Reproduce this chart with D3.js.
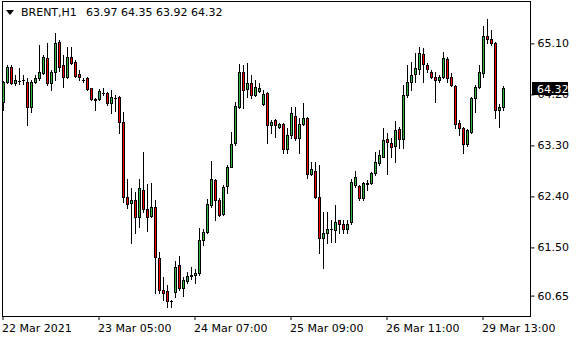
<!DOCTYPE html>
<html>
<head>
<meta charset="utf-8">
<title>BRENT H1</title>
<script src="https://cdn.jsdelivr.net/npm/d3@7"></script>
<style>
  body { margin: 0; background: #fff; }
  text { font-family: "DejaVu Sans", sans-serif; font-size: 11px; fill: #000; }
</style>
</head>
<body>
<div id="chart"></div>
<script>
// hourly BRENT bars
const opens = [64.06,64.42,64.68,64.40,64.44,64.45,64.42,63.98,64.42,64.49,64.58,64.84,64.40,64.59,65.12,64.72,64.51,64.86,64.77,64.56,
  64.46,64.49,64.31,64.12,64.11,64.22,64.22,64.05,64.14,64.15,63.71,62.39,62.28,62.33,62.04,62.51,62.18,62.05,62.21,61.31,
  60.75,60.73,60.55,60.71,61.19,60.78,60.91,61.00,61.01,61.05,61.63,61.77,62.25,62.69,62.34,62.09,62.58,62.92,63.34,63.98,
  64.59,64.29,64.40,64.19,64.26,64.03,64.22,63.66,63.75,63.62,63.68,63.24,63.48,63.82,63.43,63.68,63.78,62.79,62.85,62.39,
  61.66,61.75,61.82,61.81,61.98,61.91,61.82,61.95,62.60,62.58,62.37,62.62,62.64,62.81,62.99,63.09,63.41,63.34,63.29,63.59,
  63.41,64.19,64.42,64.56,64.65,64.91,64.72,64.59,64.51,64.45,64.51,64.82,64.51,64.35,63.69,63.61,63.32,63.54,64.13,64.33,
  64.58,65.23,65.18,65.11,63.92,63.97];
const highs = [64.43,64.72,64.72,64.54,64.66,64.54,64.49,64.45,64.54,65.07,64.89,65.10,64.63,65.28,65.16,64.89,65.04,65.03,64.80,64.63,
  64.49,64.51,64.32,64.13,64.29,64.31,64.24,64.28,64.19,64.17,63.89,62.71,62.55,62.47,62.71,63.18,62.62,62.63,62.34,61.42,
  60.98,60.84,60.57,61.26,61.35,60.98,61.06,61.15,61.12,61.84,61.82,62.35,63.02,62.70,62.37,62.60,62.95,63.53,64.06,64.73,
  64.72,64.75,64.54,64.45,64.40,64.28,64.24,63.75,63.76,63.69,63.69,63.61,63.98,63.98,63.78,64.05,63.80,63.00,63.00,62.95,
  62.12,62.12,61.98,62.25,61.99,61.98,61.98,62.70,62.85,62.61,62.65,62.69,62.83,63.18,63.22,63.60,63.52,63.43,63.73,63.62,
  64.36,64.72,64.77,64.93,65.03,65.02,64.75,64.63,64.59,64.54,64.95,64.86,64.58,64.36,63.75,63.62,63.59,64.15,64.36,64.72,
  65.41,65.53,65.34,65.12,64.03,64.35];
const lows = [63.92,64.40,64.38,64.36,64.38,64.38,63.66,63.89,64.40,64.45,64.56,64.36,64.28,64.45,64.61,64.33,64.49,64.74,64.51,64.45,
  64.42,64.28,64.10,63.92,64.10,64.19,64.01,63.87,63.90,63.52,62.30,62.19,61.58,61.75,61.86,62.12,61.79,62.04,60.69,60.69,
  60.57,60.45,60.45,60.62,60.75,60.64,60.87,60.94,60.87,61.01,61.54,61.75,62.21,61.98,62.05,62.07,62.46,62.92,63.31,63.96,
  63.96,64.15,64.14,64.17,64.24,64.01,63.34,63.52,63.45,63.60,63.16,63.16,63.43,63.39,63.16,63.66,62.72,62.78,62.37,61.40,
  61.14,61.58,61.59,61.59,61.75,61.75,61.75,61.91,62.56,62.34,62.33,62.51,62.62,62.78,62.95,63.09,62.79,63.09,63.01,63.25,
  63.25,64.15,64.28,64.42,64.56,64.42,64.59,64.49,64.06,64.42,64.49,64.42,64.35,63.61,63.48,63.16,63.29,63.52,63.89,64.31,
  64.50,65.11,65.07,63.78,63.62,63.92];
const closes = [64.42,64.68,64.40,64.45,64.44,64.45,63.98,64.42,64.49,64.59,64.86,64.40,64.59,65.10,64.68,64.51,64.86,64.75,64.52,64.51,
  64.45,64.29,64.12,64.10,64.26,64.23,64.05,64.15,64.13,63.71,62.39,62.26,62.34,62.04,62.55,62.18,62.04,62.21,61.33,60.75,
  60.69,60.55,60.56,61.15,60.78,60.92,60.99,61.01,61.05,61.63,61.77,62.26,62.71,62.34,62.07,62.56,62.92,63.32,63.99,64.59,
  64.28,64.40,64.19,64.33,64.31,64.21,63.66,63.71,63.66,63.68,63.24,63.48,63.87,63.43,63.68,63.78,62.79,62.88,62.39,61.66,
  61.75,61.82,61.83,61.95,61.91,61.82,61.91,62.66,62.74,62.37,62.63,62.64,62.81,63.00,63.13,63.39,63.36,63.27,63.57,63.41,
  64.19,64.42,64.54,64.66,64.93,64.73,64.65,64.51,64.45,64.51,64.84,64.49,64.36,63.68,63.61,63.32,63.57,64.13,64.33,64.59,
  65.23,65.18,65.11,63.92,63.98,64.32];

const priceTicks = [65.10, 64.20, 63.30, 62.40, 61.50, 60.65];
const timeTickBars = [0, 24, 48, 72, 96, 120];
const timeTickLabels = ["22 Mar 2021", "23 Mar 05:00", "24 Mar 07:00", "25 Mar 09:00", "26 Mar 11:00", "29 Mar 13:00"];
const symbol = "BRENT,H1";

const width = 580, height = 340;
const plot = { left: 2, top: 2, right: 530, bottom: 316 };
const n = opens.length;
const last = n - 1;

const bars = d3.range(n).map(i => ({ i, o: opens[i], h: highs[i], l: lows[i], c: closes[i] }));

const x = d3.scaleBand()
    .domain(d3.range(n))
    .range([1, 1 + 4 * n])
    .padding(0);

const y = d3.scaleLinear()
    .domain([60.29, 65.83])
    .range([plot.bottom, plot.top]);

const svg = d3.select("#chart").append("svg")
    .attr("width", width)
    .attr("height", height)
    .style("display", "block");

// candles
const g = svg.append("g").attr("shape-rendering", "crispEdges");

g.selectAll(".wick")
  .data(bars)
  .enter().append("rect")
    .attr("class", "wick")
    .attr("x", d => x(d.i) + 2)
    .attr("width", 1)
    .attr("y", d => Math.round(y(d.h)))
    .attr("height", d => Math.max(1, Math.round(y(d.l)) - Math.round(y(d.h)) + 1))
    .attr("fill", "#000");

const bodyTop = d => Math.round(y(Math.max(d.o, d.c)));
const bodyH = d => Math.max(1, Math.round(y(Math.min(d.o, d.c))) - bodyTop(d) + 1);

g.selectAll(".body")
  .data(bars)
  .enter().append("rect")
    .attr("class", "body")
    .attr("x", d => x(d.i) + 1)
    .attr("width", 3)
    .attr("y", bodyTop)
    .attr("height", bodyH)
    .attr("fill", "#000");

g.selectAll(".fill")
  .data(bars.filter(d => bodyH(d) >= 3))
  .enter().append("rect")
    .attr("class", "fill")
    .attr("x", d => x(d.i) + 2)
    .attr("width", 1)
    .attr("y", d => bodyTop(d) + 1)
    .attr("height", d => bodyH(d) - 2)
    .attr("fill", d => d.c >= d.o ? "#2db83d" : "#ff0000");

// frame
svg.append("rect")
    .attr("x", plot.left + 0.5)
    .attr("y", plot.top - 0.5)
    .attr("width", plot.right - plot.left)
    .attr("height", plot.bottom - plot.top + 1)
    .attr("fill", "none")
    .attr("stroke", "#000")
    .attr("shape-rendering", "crispEdges");

// price axis
const yAxis = svg.append("g")
    .attr("transform", `translate(${plot.right + 0.5},0)`)
    .call(d3.axisRight(y).tickValues(priceTicks).tickSize(4).tickPadding(3).tickFormat(d3.format(".2f")));
yAxis.select(".domain").remove();
yAxis.selectAll("text").style("font-family", "DejaVu Sans").style("font-size", "11px");
yAxis.selectAll("line").attr("stroke", "#000");

// time axis
const xAxis = svg.append("g")
    .attr("transform", `translate(0,${plot.bottom})`)
    .call(d3.axisBottom(x).tickValues(timeTickBars).tickSize(4).tickPadding(4)
      .tickFormat((d, k) => timeTickLabels[k]));
xAxis.select(".domain").remove();
xAxis.selectAll("text")
    .attr("text-anchor", "start")
    .attr("x", -1)
    .style("font-family", "DejaVu Sans").style("font-size", "11px");
xAxis.selectAll("line").attr("stroke", "#000");

// current price label
const py = Math.round(y(closes[last]));
svg.append("rect")
    .attr("x", plot.right + 2)
    .attr("y", py - 6)
    .attr("width", 36)
    .attr("height", 13)
    .attr("fill", "#000");
svg.append("text")
    .attr("x", plot.right + 7)
    .attr("y", py + 5)
    .style("fill", "#fff")
    .text(d3.format(".2f")(closes[last]));

// title
svg.append("path")
    .attr("d", "M6,10 L14,10 L10,15 Z")
    .attr("fill", "#000");
svg.append("text")
    .attr("x", 21)
    .attr("y", 16)
    .text(symbol);
svg.append("text")
    .attr("x", 86)
    .attr("y", 16)
    .attr("xml:space", "preserve")
    .text([opens[last], highs[last], lows[last], closes[last]].map(d3.format(".2f")).join(" "));
</script>
</body>
</html>
